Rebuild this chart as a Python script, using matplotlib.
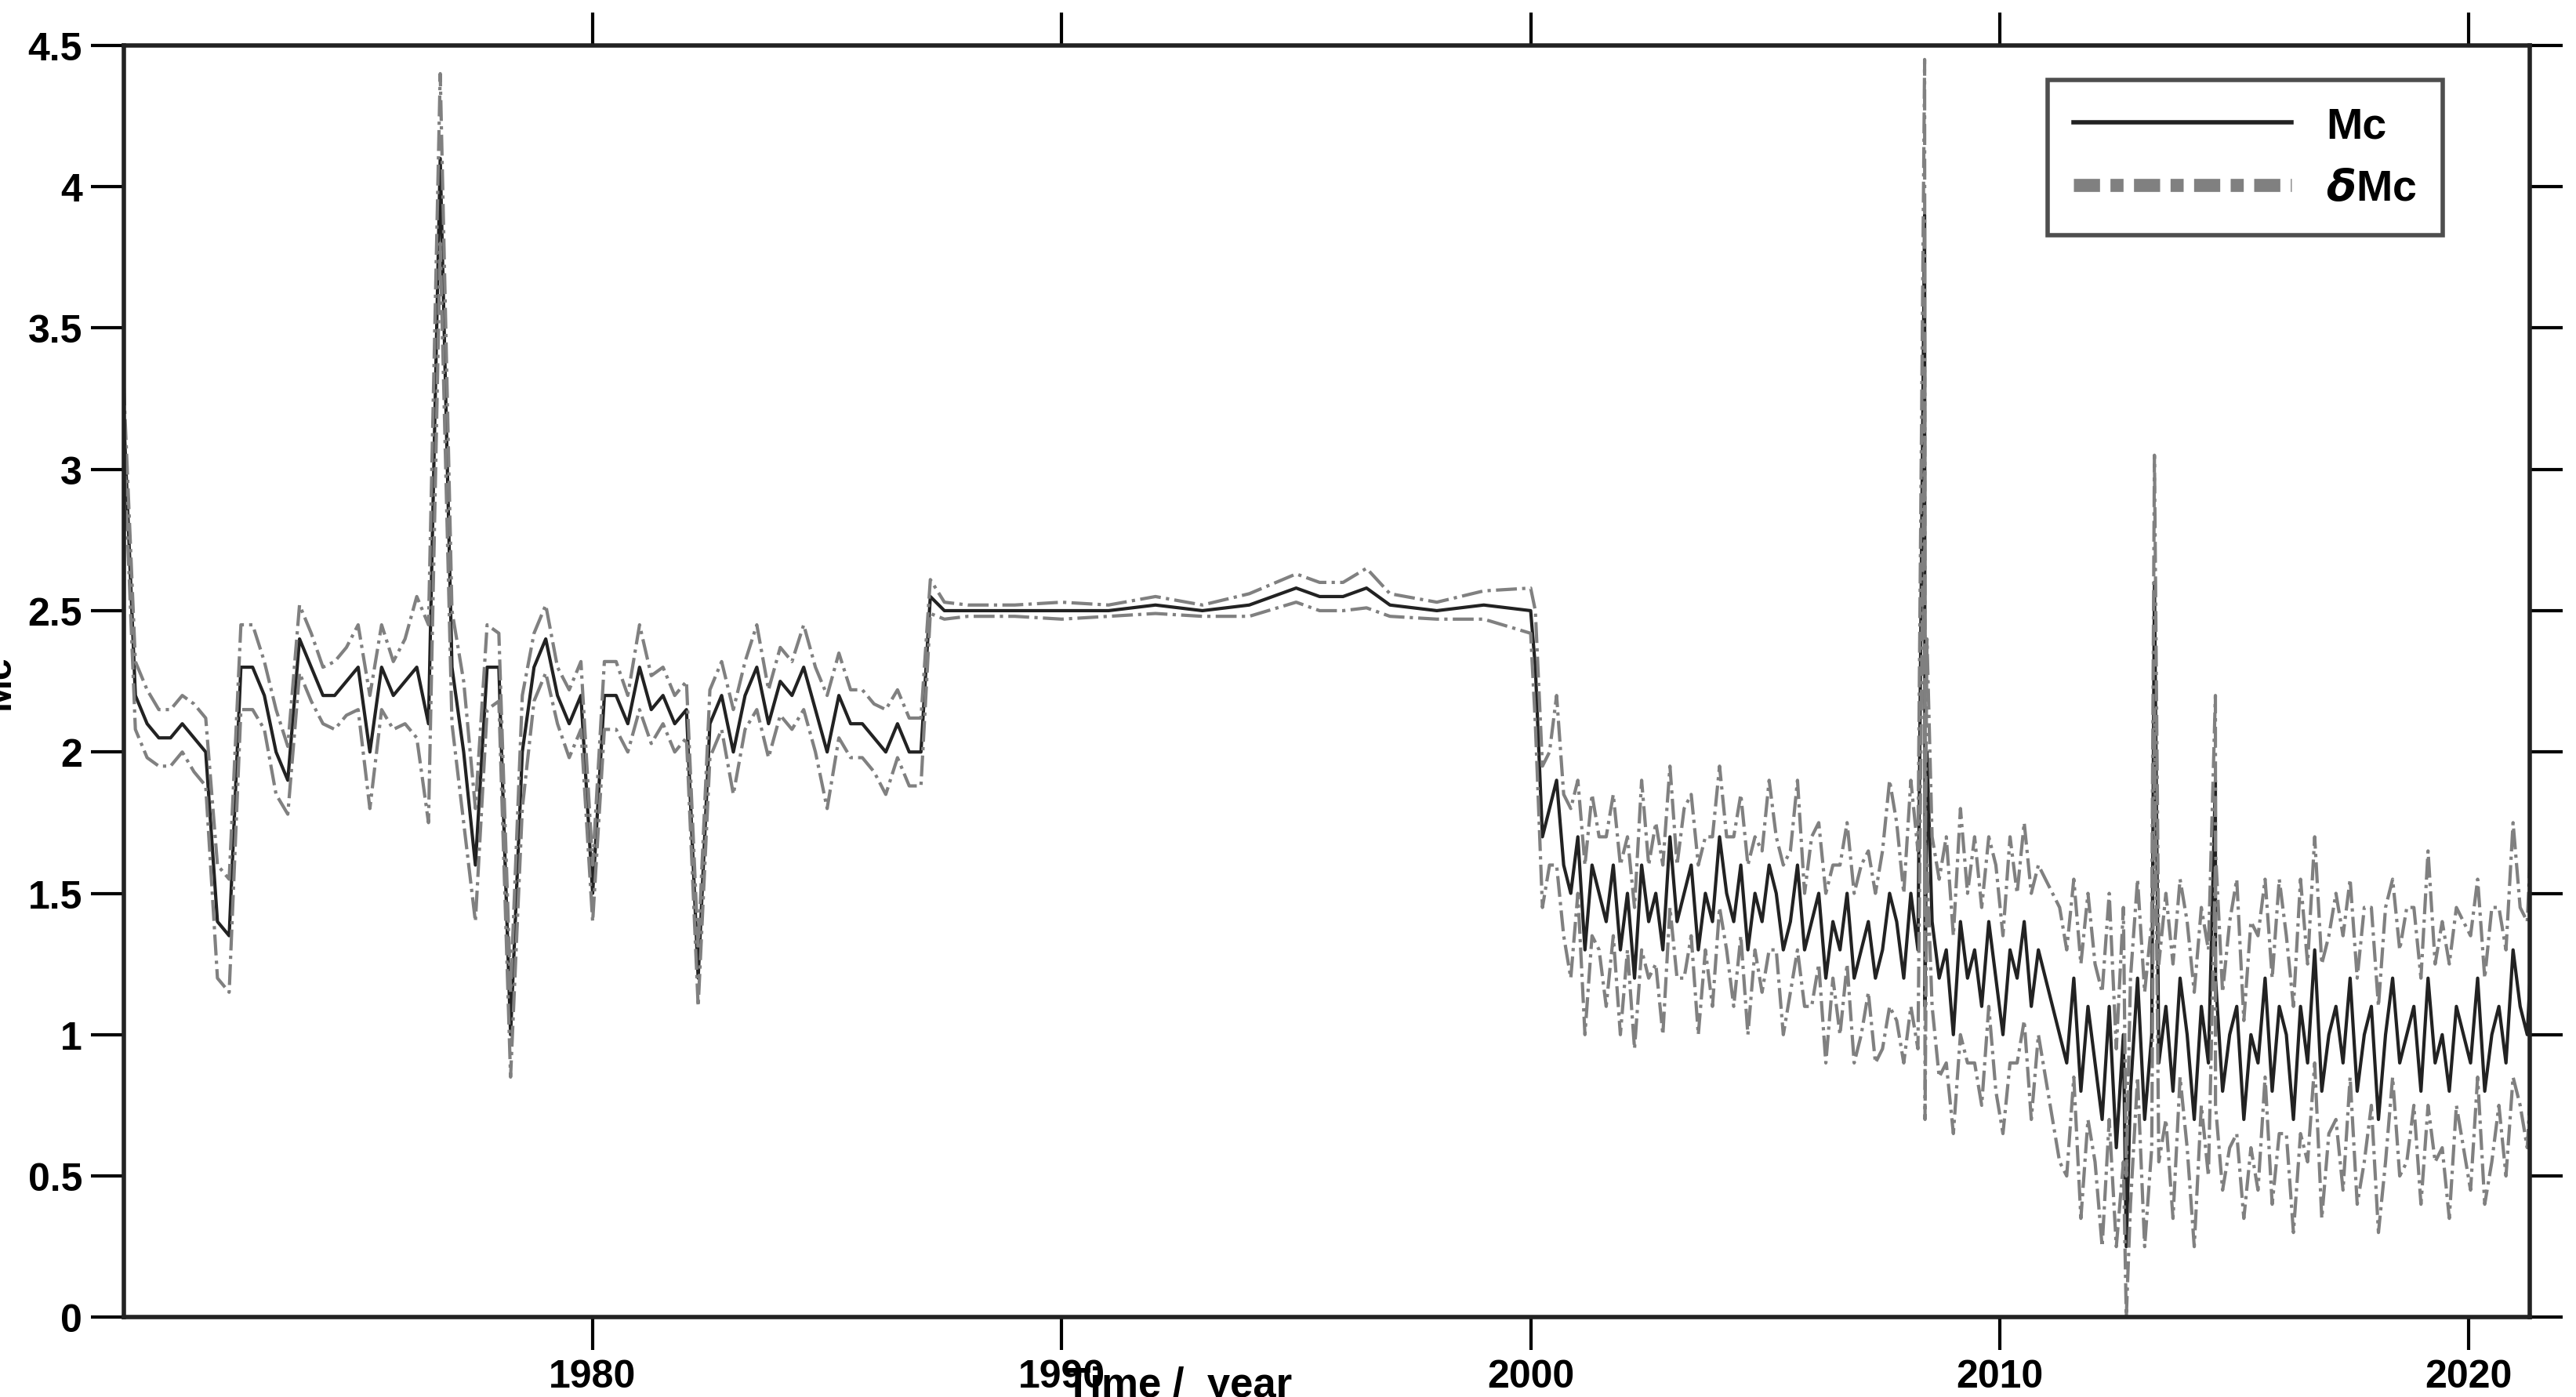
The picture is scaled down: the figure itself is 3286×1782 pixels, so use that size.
import numpy as np
import matplotlib
matplotlib.use("Agg")
import matplotlib.pyplot as plt

plt.rcParams['font.family'] = ['Liberation Sans Narrow', 'Liberation Sans', 'DejaVu Sans']
plt.rcParams['font.weight'] = 'bold'

# --- 1970-1987, quarterly ---
mc_a = [3.2, 2.2, 2.1, 2.05, 2.05, 2.1, 2.05, 2.0, 1.4, 1.35, 2.3, 2.3, 2.2, 2.0, 1.9, 2.4,
        2.3, 2.2, 2.2, 2.25, 2.3, 2.0, 2.3, 2.2, 2.25, 2.3, 2.1, 4.1, 2.3, 2.0, 1.6, 2.3,
        2.3, 1.0, 2.0, 2.3, 2.4, 2.2, 2.1, 2.2, 1.5, 2.2, 2.2, 2.1, 2.3, 2.15, 2.2, 2.1,
        2.15, 1.2, 2.1, 2.2, 2.0, 2.2, 2.3, 2.1, 2.25, 2.2, 2.3, 2.15, 2.0, 2.2, 2.1, 2.1,
        2.05, 2.0, 2.1, 2.0, 2.0]
d_a = [0.1, 0.12, 0.12, 0.1, 0.1, 0.1, 0.12, 0.12, 0.2, 0.2, 0.15, 0.15, 0.12, 0.15, 0.12, 0.12,
       0.12, 0.1, 0.12, 0.12, 0.15, 0.2, 0.15, 0.12, 0.15, 0.25, 0.35, 0.3, 0.2, 0.25, 0.2, 0.15,
       0.12, 0.15, 0.2, 0.12, 0.12, 0.1, 0.12, 0.12, 0.1, 0.12, 0.12, 0.1, 0.15, 0.12, 0.1, 0.1,
       0.1, 0.1, 0.12, 0.12, 0.15, 0.12, 0.15, 0.12, 0.12, 0.12, 0.15, 0.15, 0.2, 0.15, 0.12, 0.12,
       0.12, 0.15, 0.12, 0.12, 0.12]
n_a = min(len(mc_a), len(d_a))
mc_a, d_a = mc_a[:n_a], d_a[:n_a]
yr_a = np.linspace(1970.0, 1987.0, n_a)

# --- 1987-2000 plateau ---
yr_b = [1987.2, 1987.5, 1988, 1989, 1990, 1991, 1992, 1993, 1994, 1995, 1995.5, 1996, 1996.5, 1997, 1998, 1999, 2000.0]
mc_b = [2.55, 2.5, 2.5, 2.5, 2.5, 2.5, 2.52, 2.5, 2.52, 2.58, 2.55, 2.55, 2.58, 2.52, 2.5, 2.52, 2.5]
d_b = [0.06, 0.03, 0.02, 0.02, 0.03, 0.02, 0.03, 0.02, 0.04, 0.05, 0.05, 0.05, 0.07, 0.04, 0.03, 0.05, 0.08]

# --- 2000-2021.4 noisy part ---
mc_c = [2.3, 1.7, 1.8, 1.9, 1.6, 1.5, 1.7, 1.3, 1.6, 1.5, 1.4, 1.6, 1.3, 1.5, 1.2, 1.6, 1.4, 1.5,
        1.3, 1.7, 1.4, 1.5, 1.6, 1.3, 1.5, 1.4, 1.7, 1.5, 1.4, 1.6, 1.3, 1.5, 1.4, 1.6, 1.5, 1.3,
        1.4, 1.6, 1.3, 1.4, 1.5, 1.2, 1.4, 1.3, 1.5, 1.2, 1.3, 1.4, 1.2, 1.3, 1.5, 1.4, 1.2, 1.5,
        1.3, 1.1, 1.4, 1.2, 1.3, 1.0, 1.4, 1.2, 1.3, 1.1, 1.4, 1.2, 1.0, 1.3, 1.2, 1.4, 1.1, 1.3,
        1.2, 1.1, 1.0, 0.9, 1.2, 0.8, 1.1, 0.9, 0.7, 1.1, 0.6, 1.0, 0.8, 1.2, 0.7, 1.0, 0.9, 1.1,
        0.8, 1.2, 1.0, 0.7, 1.1, 0.9, 1.2, 0.8, 1.0, 1.1, 0.7, 1.0, 0.9, 1.2, 0.8, 1.1, 1.0, 0.7,
        1.1, 0.9, 1.3, 0.8, 1.0, 1.1, 0.9, 1.2, 0.8, 1.0, 1.1, 0.7, 1.0, 1.2, 0.9, 1.0, 1.1, 0.8,
        1.2, 0.9, 1.0, 0.8, 1.1, 1.0, 0.9, 1.2, 0.8, 1.0, 1.1, 0.9, 1.3, 1.1, 1.0, 1.5]
d_c = [0.2, 0.25, 0.2, 0.3, 0.25, 0.3, 0.2, 0.3, 0.25, 0.2, 0.3, 0.25, 0.3, 0.2, 0.25, 0.3, 0.2, 0.25,
       0.3, 0.25, 0.2, 0.3, 0.25, 0.3, 0.2, 0.3, 0.25, 0.2, 0.3, 0.25, 0.3, 0.2, 0.25, 0.3, 0.2, 0.3,
       0.25, 0.3, 0.2, 0.3, 0.25, 0.3, 0.2, 0.3, 0.25, 0.3, 0.3, 0.25, 0.3, 0.35, 0.4, 0.35, 0.3, 0.4,
       0.35, 0.4, 0.3, 0.35, 0.4, 0.35, 0.4, 0.3, 0.4, 0.35, 0.3, 0.4, 0.35, 0.4, 0.3, 0.35, 0.4, 0.3,
       0.35, 0.4, 0.45, 0.4, 0.35, 0.45, 0.4, 0.35, 0.45, 0.4, 0.35, 0.45, 0.4, 0.35, 0.45, 0.4, 0.35, 0.4,
       0.45, 0.35, 0.4, 0.45, 0.35, 0.4, 0.45, 0.35, 0.4, 0.45, 0.35, 0.4, 0.45, 0.35, 0.4, 0.45, 0.35, 0.4,
       0.45, 0.35, 0.4, 0.45, 0.35, 0.4, 0.45, 0.35, 0.4, 0.45, 0.35, 0.4, 0.45, 0.35, 0.4, 0.45, 0.35, 0.4,
       0.45, 0.35, 0.4, 0.45, 0.35, 0.4, 0.45, 0.35, 0.4, 0.45, 0.35, 0.4, 0.45, 0.35, 0.4, 0.45, 0.35]
n_c = min(len(mc_c), len(d_c))
mc_c, d_c = mc_c[:n_c], d_c[:n_c]
yr_c = np.linspace(2000.1, 2021.4, n_c)

# isolated spikes in the noisy part
spike_yr = [2008.4, 2008.45, 2012.7, 2013.3, 2014.6]
spike_mc = [3.9, 2.0, 0.25, 2.6, 1.9]
spike_d = [0.55, 0.4, 0.25, 0.45, 0.3]

yr = np.concatenate([yr_a, yr_b, yr_c, spike_yr])
mc = np.concatenate([mc_a, mc_b, mc_c, spike_mc])
dmc = np.concatenate([d_a, d_b, d_c, spike_d])
order = np.argsort(yr, kind='stable')
yr, mc, dmc = yr[order], mc[order], dmc[order]

fig = plt.figure(figsize=(32.86, 17.83), dpi=100)
ax = fig.add_axes([0.048, 0.057, 0.934, 0.91])

ax.plot(yr, mc, color='#222222', lw=3, label='Mc')
ax.plot(yr, mc + dmc, color='#808080', lw=3, ls='-.', label=r'$\delta$Mc')
ax.plot(yr, mc - dmc, color='#808080', lw=3, ls='-.')

ax.set_xlim(1970.0, 2021.3)
ax.set_ylim(0, 4.5)
ax.set_xticks([1980, 1990, 2000, 2010, 2020])
ax.set_yticks(np.arange(0, 4.51, 0.5))
ax.set_yticklabels(['0', '0.5', '1', '1.5', '2', '2.5', '3', '3.5', '4', '4.5'])
ax.tick_params(direction='out', length=30, width=3, labelsize=36, pad=8,
               top=True, right=True)
for s in ax.spines.values():
    s.set_linewidth(4)
    s.set_color('#222222')

ax.set_ylabel('Mc', fontsize=36, fontweight='bold', labelpad=10)
ax.text(1992.5, -0.17, 'Time /  year', fontsize=38, fontweight='bold', ha='center', va='top')

leg_handles = [plt.Line2D([], [], color='#222222', lw=4),
               plt.Line2D([], [], color='#808080', lw=12, dashes=(2, 0.8, 1, 0.8))]
leg = ax.legend(leg_handles, ['Mc', r'$\delta$Mc'], loc='upper right', fontsize=40,
                frameon=True, fancybox=False, edgecolor='#222222', handlelength=5,
                borderpad=0.6, bbox_to_anchor=(0.973, 0.99))
leg.get_frame().set_linewidth(4)

fig.savefig('out.png', dpi=100)
